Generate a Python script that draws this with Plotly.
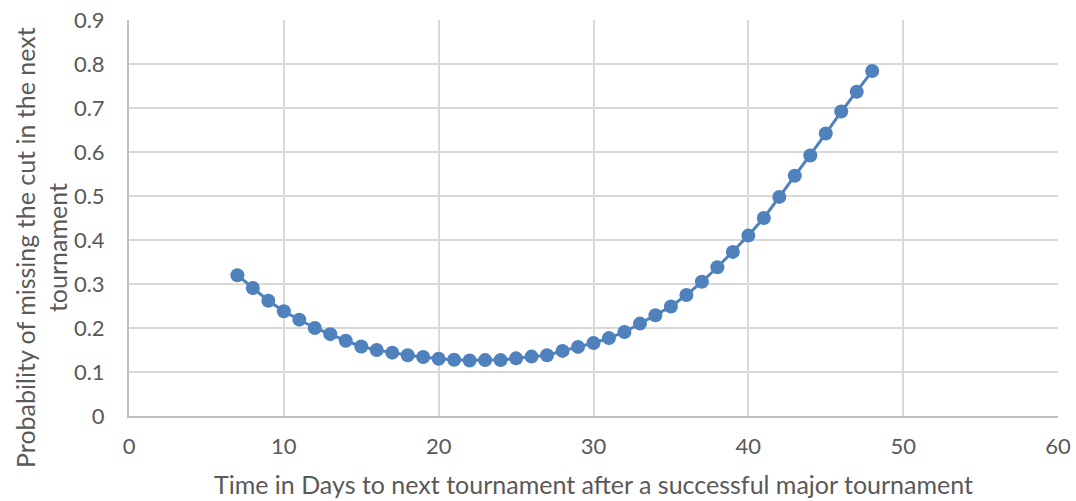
import plotly.graph_objects as go

days = list(range(7, 49))
prob = [0.320, 0.291, 0.262, 0.238, 0.219, 0.200, 0.186, 0.171, 0.158, 0.150,
        0.144, 0.138, 0.134, 0.130, 0.128, 0.126, 0.127, 0.127, 0.131, 0.135,
        0.138, 0.148, 0.157, 0.166, 0.177, 0.191, 0.210, 0.229, 0.249, 0.275,
        0.305, 0.338, 0.373, 0.410, 0.450, 0.498, 0.546, 0.592, 0.642, 0.692,
        0.737, 0.784]

x_ticks = [0, 10, 20, 30, 40, 50, 60]
y_ticks = [0, 0.1, 0.2, 0.3, 0.4, 0.5, 0.6, 0.7, 0.8, 0.9]
y_tick_text = ["0", "0.1", "0.2", "0.3", "0.4", "0.5", "0.6", "0.7", "0.8", "0.9"]

x_title = "Time in Days to next tournament after a successful major tournament"
y_title = "Probability of missing the cut in the next<br>tournament"

blue = "#4F81BD"
font_family = "Lato, Open Sans, sans-serif"

fig = go.Figure()
fig.add_trace(go.Scatter(
    x=days, y=prob, mode="lines+markers",
    line=dict(color=blue, width=3),
    marker=dict(color=blue, size=14),
    showlegend=False,
))

fig.update_layout(
    width=1076, height=501,
    margin=dict(l=129, r=18, t=20, b=85),
    paper_bgcolor="white", plot_bgcolor="white",
    font=dict(family=font_family, color="#595959", size=22),
    xaxis=dict(
        range=[0, 60], tickvals=x_ticks, ticktext=[str(t) for t in x_ticks],
        showgrid=True, gridcolor="#D9D9D9", gridwidth=2,
        showline=True, linecolor="#BFBFBF", linewidth=2,
        zeroline=False, ticks="", ticklabelstandoff=10, automargin=False,
        title=dict(text=x_title, font=dict(size=25, color="#595959"), standoff=18),
    ),
    yaxis=dict(
        range=[0, 0.9], tickvals=y_ticks, ticktext=y_tick_text,
        showgrid=True, gridcolor="#D9D9D9", gridwidth=2,
        showline=True, linecolor="#BFBFBF", linewidth=2,
        zeroline=False, ticks="", ticklabelstandoff=18, automargin=False,
    ),
    annotations=[dict(
        text=y_title, textangle=-90, showarrow=False,
        xref="paper", yref="paper", x=-0.0937, y=0.4268,
        xanchor="center", yanchor="middle",
        font=dict(size=25, color="#595959"),
    )],
)

fig.write_html("out.html")
